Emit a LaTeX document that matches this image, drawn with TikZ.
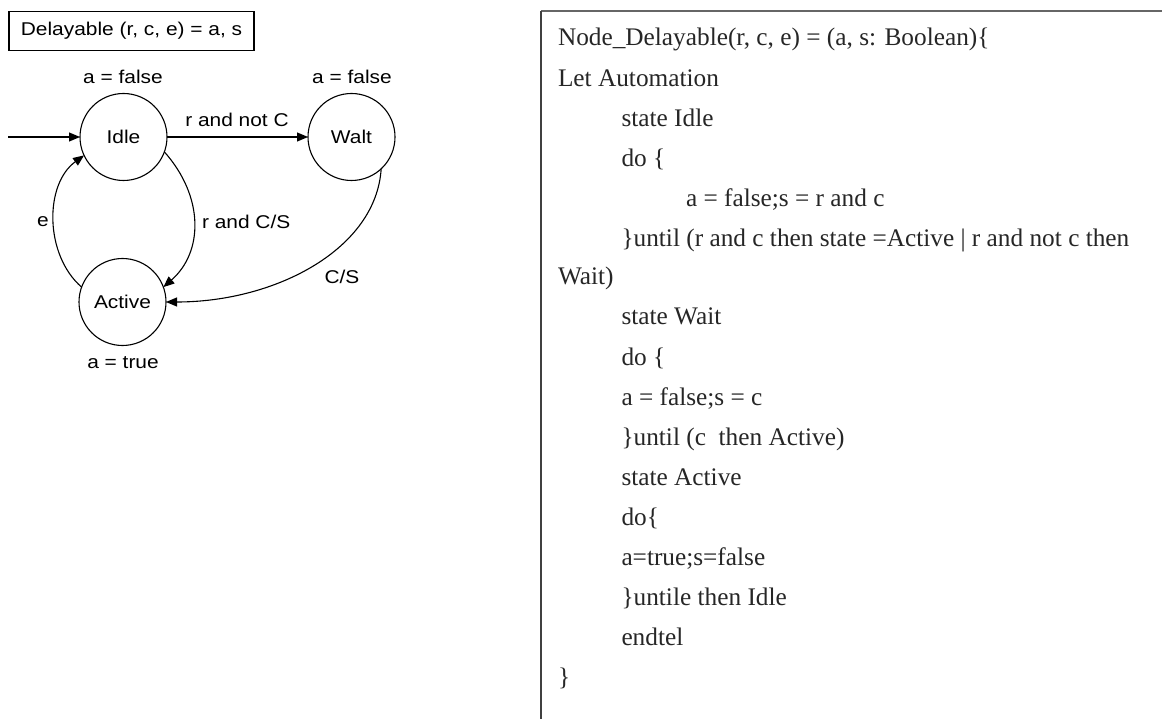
\documentclass[tikz,border=0pt]{standalone}
\usepackage{fontspec}
\usetikzlibrary{arrows.meta}
\newfontfamily\diagfont[FakeStretch=1.13]{Liberation Sans}
\newfontfamily\codefont{Liberation Serif}
\begin{document}
\begin{tikzpicture}[x=1pt,y=-1pt,
  every node/.style={inner sep=0pt, outer sep=0pt},
  lbl/.style={font=\diagfont\fontsize{18.5}{20}\selectfont},
  statenode/.style={draw, circle, line width=1.1pt, minimum size=87pt,
    font=\diagfont\fontsize{18.5}{20}\selectfont},
  arr/.style={line width=1.1pt, -{Triangle[length=11pt,width=9pt]}},
  codeln/.style={anchor=base west, font=\codefont\fontsize{25.3}{28}\selectfont, text=black!85}]
\useasboundingbox (0,0) rectangle (1162,719);

% ---- state machine ----
\node[draw, line width=1.1pt, minimum width=245pt, minimum height=38.5pt,
      font=\diagfont\fontsize{18.5}{20}\selectfont] (title) at (131.5,31) {Delayable (r, c, e) = a, s};

\node[statenode] (idle)   at (123.5,137) {Idle};
\node[statenode] (walt)   at (351.5,137) {Walt};
\node[statenode] (active) at (122.5,302) {Active};

\node[lbl] (idleout)   at (123,77)  {a = false};
\node[lbl] (waltout)   at (352,77)  {a = false};
\node[lbl] (activeout) at (123,363) {a = true};

\coordinate (init) at (8,137);
\draw[arr] (init) -- (idle);

\draw[arr] (idle) -- (walt);
\node[lbl] (lrnc) at (237,120) {r and not C};

\draw[arr] (idle.-20) .. controls +(40,45) and +(40,-35) .. (active.20);
\node[lbl, anchor=west] (lrc) at (202,222) {r and C/S};

\draw[arr] (active.160) .. controls +(-37,-32) and +(-40,29) .. (idle.205);
\node[lbl] (le) at (43,222) {e};

\draw[arr] (walt.-47) .. controls +(-5,80) and +(110,0) .. (active.east);
\node[lbl] (lcs) at (342,277) {C/S};

% ---- textual form ----
\coordinate (boxtl) at (541,11);
\coordinate (boxtr) at (1162,11);
\coordinate (boxbl) at (541,719);
\draw[line width=2pt, black!60] (boxtl) -- (boxtr);
\draw[line width=1.5pt, black!75] (boxbl) -- (boxtl);

\def\xa{558}\def\xb{621.5}\def\xc{686}
\node[codeln] (c01) at (\xa,46)    {Node\_Delayable(r, c, e) = (a, s: Boolean)\{};
\node[codeln] (c02) at (\xa,86.5)  {Let Automation};
\node[codeln] (c03) at (\xb,126.5) {state Idle};
\node[codeln] (c04) at (\xb,166.5) {do \{};
\node[codeln] (c05) at (\xc,206.5) {a = false;s = r and c};
\node[codeln] (c06) at (\xb,246.5) {\}until (r and c then state =Active | r and not c then};
\node[codeln] (c07) at (\xa,285)   {Wait)};
\node[codeln] (c08) at (\xb,325)   {state Wait};
\node[codeln] (c09) at (\xb,365)   {do \{};
\node[codeln] (c10) at (\xb,405.5) {a = false;s = c};
\node[codeln] (c11) at (\xb,445.5) {\}until (c\ \ then Active)};
\node[codeln] (c12) at (\xb,485.5) {state Active};
\node[codeln] (c13) at (\xb,525.5) {do\{};
\node[codeln] (c14) at (\xb,565.5) {a=true;s=false};
\node[codeln] (c15) at (\xb,605.5) {\}untile then Idle};
\node[codeln] (c16) at (\xb,645.5) {endtel};
\node[codeln] (c17) at (\xa,685)   {\}};
\end{tikzpicture}
\end{document}
